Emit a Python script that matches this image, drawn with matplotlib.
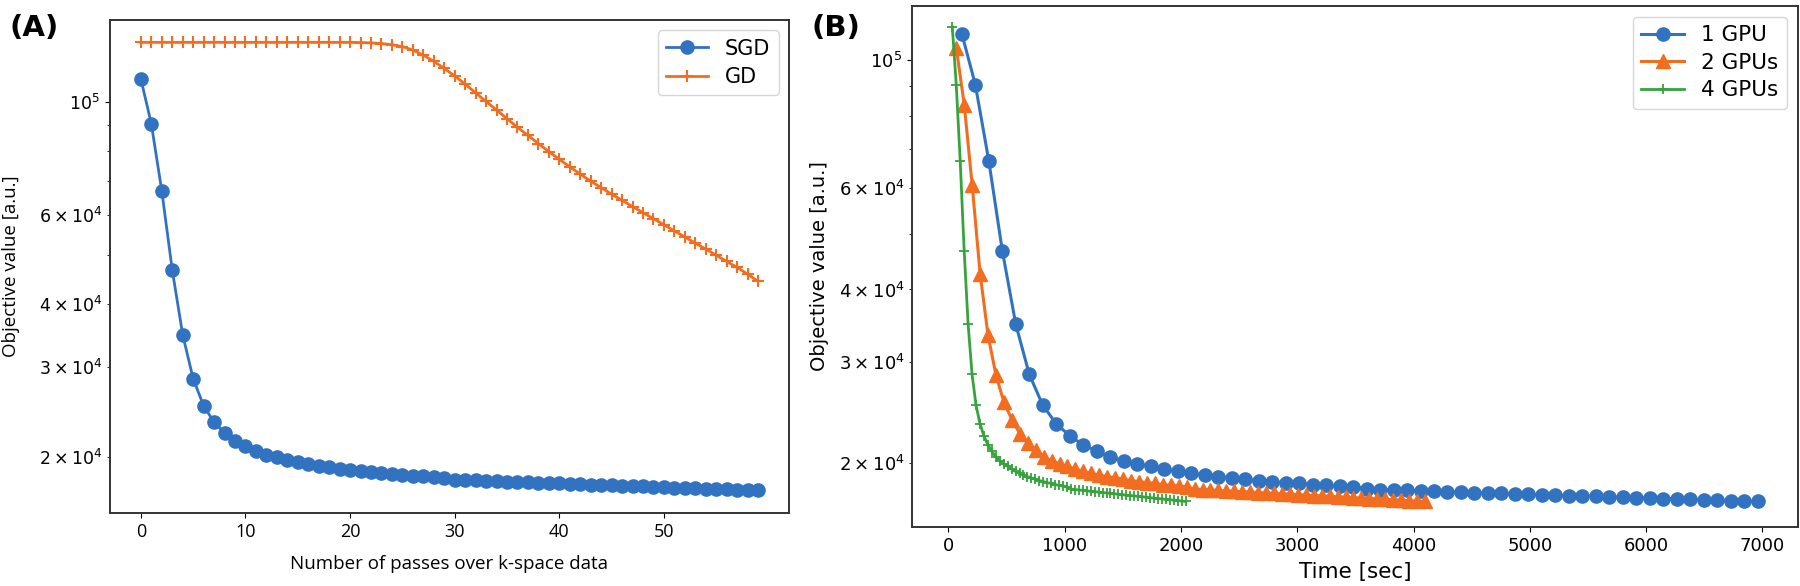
import numpy as np
import matplotlib
matplotlib.use("Agg")
import matplotlib.pyplot as plt

# (A) objective per pass over k-space data
passes = list(range(60))
sgd_obj = [111000, 90600, 66800, 46700, 34800, 28500, 25200, 23400, 22300, 21500,
           20970, 20500, 20190, 19950, 19740, 19530, 19350, 19210, 19060, 18950,
           18860, 18750, 18660, 18580, 18500, 18440, 18360, 18300, 18250, 18190,
           18030, 18000, 17970, 17940, 17905, 17875, 17845, 17815, 17785, 17755,
           17725, 17695, 17665, 17635, 17605, 17575, 17545, 17515, 17485, 17455,
           17420, 17395, 17365, 17335, 17305, 17280, 17250, 17220, 17190, 17165]
gd_obj = [131000, 131000, 131000, 131000, 131000, 131000, 131000, 131000, 131000, 131000,
          131000, 131000, 131000, 131000, 131000, 131000, 131000, 131000, 131000, 131000,
          131000, 130900, 130700, 130300, 129600, 128500, 126500, 123600, 120200, 116400,
          112500, 108400, 104200, 100200, 96400, 92700, 89100, 85900, 82800, 79800,
          77100, 74500, 72100, 69800, 67800, 65800, 64000, 62200, 60500, 58900,
          57300, 55700, 54200, 52700, 51300, 49900, 48500, 47200, 45800, 44300]

# (B) objective vs wall time, seconds per pass for each GPU count
gpu_labels = ["1 GPU", "2 GPUs", "4 GPUs"]
sec_per_pass = [116.0, 68.3, 34.0]
obj_1gpu = sgd_obj
obj_2gpu = [105000, 83600, 60700, 42600, 33300, 28400, 25500, 23800, 22500, 21700,
            21100] + sgd_obj[11:]
obj_4gpu = [114000] + sgd_obj[1:]

blue = "#3172c1"
orange = "#f26d1f"
green = "#35a43b"

fig = plt.figure(figsize=(18, 5.86), dpi=100)
ax1 = fig.add_axes([0.0611, 0.1246, 0.3772, 0.8413])
ax2 = fig.add_axes([0.5067, 0.1007, 0.4922, 0.8891])

ax1.plot(passes, sgd_obj, color=blue, lw=2, marker="o", ms=9.5, label="SGD")
ax1.plot(passes, gd_obj, color=orange, lw=2, marker="+", ms=9, mew=1.5, label="GD")
ax1.set_yscale("log")
ax1.set_ylim(1.55e4, 1.45e5)
ax1.set_xlim(-2.95, 61.95)
ax1.set_xticks([0, 10, 20, 30, 40, 50], ["0", "10", "20", "30", "40", "50"],
               fontfamily="Open Sans", fontsize=13)
ax1.tick_params(axis="y", which="both", labelsize=12.5)
ax1.set_xlabel("Number of passes over k-space data", fontfamily="Open Sans", fontsize=13.5)
ax1.set_ylabel("Objective value [a.u.]", fontfamily="Open Sans", fontsize=13.5)
ax1.xaxis.set_label_coords(0.5, -0.085)
ax1.yaxis.set_label_coords(-0.133, 0.5)
ax1.legend(loc="upper right", fontsize=15, labelspacing=0.4)

iters = np.arange(1, 61)
ax2.plot(iters * sec_per_pass[0], obj_1gpu, color=blue, lw=2.2, marker="o", ms=9.5,
         label=gpu_labels[0])
ax2.plot(iters * sec_per_pass[1], obj_2gpu, color=orange, lw=2.2, marker="^", ms=9.5,
         label=gpu_labels[1])
ax2.plot(iters * sec_per_pass[2], obj_4gpu, color=green, lw=2, marker="+", ms=7, mew=1.3,
         label=gpu_labels[2])
ax2.set_yscale("log")
ax2.set_ylim(1.55e4, 1.24e5)
ax2.set_xlim(-312, 7306)
ax2.tick_params(axis="both", which="both", labelsize=13)
ax2.set_xlabel("Time [sec]", fontsize=15.5)
ax2.set_ylabel("Objective value [a.u.]", fontsize=14)
ax2.xaxis.set_label_coords(0.5, -0.068)
ax2.yaxis.set_label_coords(-0.094, 0.5)
ax2.legend(loc="upper right", fontsize=15.5, labelspacing=0.35)

for ax in (ax1, ax2):
    for s in ax.spines.values():
        s.set_color("#333333")
        s.set_linewidth(1.4)

fig.text(0.005, 0.952, "(A)", fontsize=21, fontweight="bold", va="center")
fig.text(0.451, 0.952, "(B)", fontsize=21, fontweight="bold", va="center")

fig.savefig("out.png", dpi=100)
